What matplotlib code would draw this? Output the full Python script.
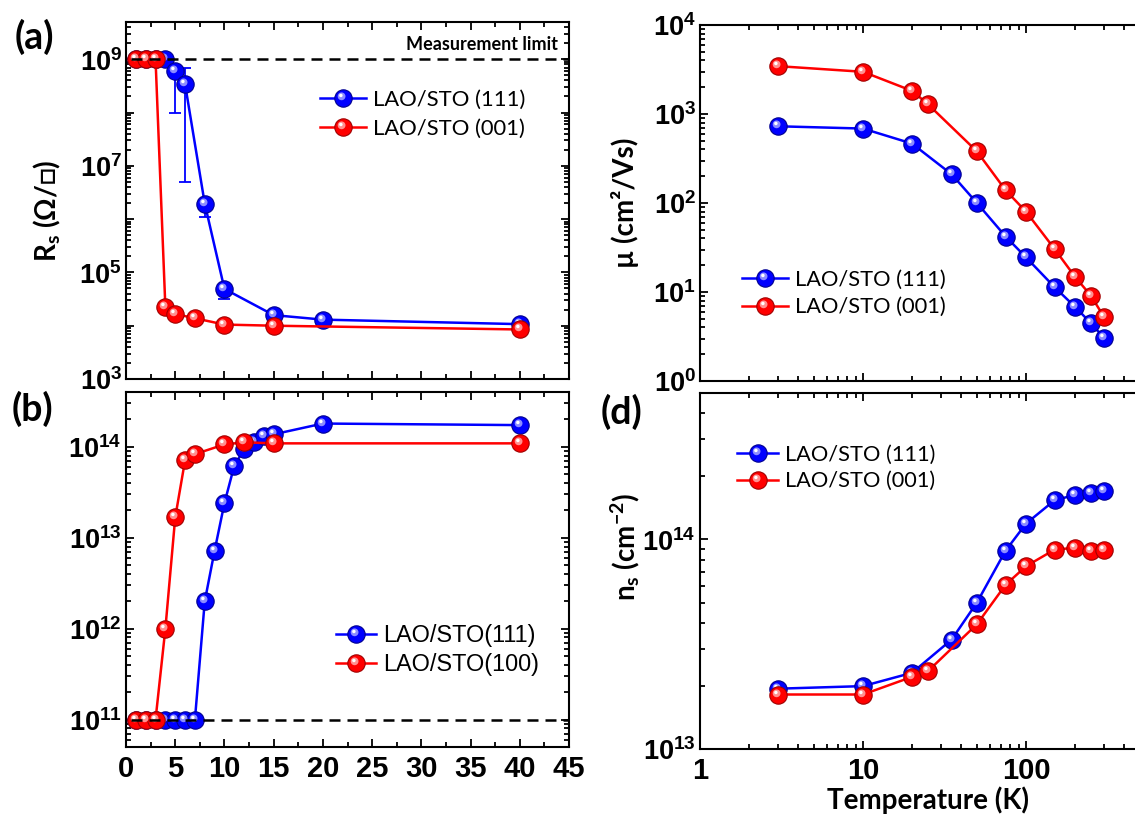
import numpy as np
import matplotlib
matplotlib.use("Agg")
import matplotlib.pyplot as plt
from matplotlib.path import Path
from matplotlib.legend_handler import HandlerTuple
from matplotlib.ticker import LogLocator, FuncFormatter, MultipleLocator, NullFormatter, FixedLocator

# ---------------- data ----------------
# (a) sheet resistance vs LAO thickness
a_t_111 = [1, 2, 3, 4, 5, 6, 8, 10, 15, 20, 40]
a_R_111 = [1e9, 1e9, 1e9, 1e9, 5.9e8, 3.4e8, 1.95e6, 4.9e4, 1.58e4, 1.3e4, 1.07e4]
a_R_111_low = [1e9, 1e9, 1e9, 1e9, 1.0e8, 5.0e6, 1.1e6, 3.2e4, 1.58e4, 1.3e4, 1.07e4]
a_R_111_high = [1e9, 1e9, 1e9, 1e9, 6.9e8, 6.8e8, 1.95e6, 4.9e4, 1.58e4, 1.3e4, 1.07e4]
a_t_001 = [1, 2, 3, 4, 5, 7, 10, 15, 40]
a_R_001 = [1e9, 1e9, 1e9, 2.2e4, 1.66e4, 1.38e4, 1.05e4, 1.0e4, 8.5e3]
a_limit = 1e9

# (b) carrier density vs LAO thickness
b_t_111 = [1, 2, 3, 4, 5, 6, 7, 8, 9, 10, 11, 12, 13, 14, 15, 20, 40]
b_n_111 = [1e11, 1e11, 1e11, 1e11, 1e11, 1e11, 1e11, 2.0e12, 7.2e12, 2.4e13, 6.2e13,
           9.4e13, 1.13e14, 1.31e14, 1.37e14, 1.8e14, 1.73e14]
b_t_100 = [1, 2, 3, 4, 5, 6, 7, 10, 12, 15, 40]
b_n_100 = [1e11, 1e11, 1e11, 1.0e12, 1.67e13, 7.1e13, 8.3e13, 1.06e14, 1.12e14, 1.09e14, 1.09e14]
b_limit = 1e11

# (c) mobility vs temperature
c_T_111 = [3, 10, 20, 35, 50, 75, 100, 150, 200, 250, 300]
c_mu_111 = [728, 686, 465, 210, 100, 42, 24.5, 11.3, 6.8, 4.47, 3.08]
c_T_001 = [3, 10, 20, 25, 50, 75, 100, 150, 200, 250, 300]
c_mu_001 = [3450, 2980, 1820, 1290, 380, 139, 80, 30.3, 14.8, 9.1, 5.3]

# (d) carrier density vs temperature
d_T_111 = [3, 10, 20, 35, 50, 75, 100, 150, 200, 250, 300]
d_n_111 = [1.94e13, 1.996e13, 2.31e13, 3.33e13, 5.0e13, 8.85e13, 1.19e14, 1.54e14, 1.63e14, 1.66e14, 1.71e14]
d_T_001 = [3, 10, 20, 25, 50, 75, 100, 150, 200, 250, 300]
d_n_001 = [1.82e13, 1.82e13, 2.21e13, 2.35e13, 3.94e13, 6.08e13, 7.45e13, 8.95e13, 9.12e13, 8.8e13, 8.86e13]

labels_a = ["LAO/STO (111)", "LAO/STO (001)"]
labels_b = ["LAO/STO(111)", "LAO/STO(100)"]
labels_cd = ["LAO/STO (111)", "LAO/STO (001)"]
a_xticks = [0, 5, 10, 15, 20, 25, 30, 35, 40, 45]
T_xticks = [1, 10, 100]

# ---------------- fonts ----------------
plt.rcParams["mathtext.fontset"] = "custom"
plt.rcParams["mathtext.bf"] = "Liberation Sans:bold"
plt.rcParams["mathtext.rm"] = "Lato:bold"
plt.rcParams["mathtext.it"] = "Lato:bold"
plt.rcParams["font.family"] = ["Lato", "DejaVu Sans"]

W, H = 1135, 826
fig = plt.figure(figsize=(W / 100, H / 100), dpi=100)
renderer = fig.canvas.get_renderer()


def fit_size(s, family, target_px, ref=20):
    t = fig.text(0, 0, s, family=family, fontsize=ref)
    w = t.get_window_extent(renderer).width
    t.remove()
    return ref * target_px / w


def px_axes(x0, y0, x1, y1):
    return fig.add_axes([x0 / W, 1 - y1 / H, (x1 - x0) / W, (y1 - y0) / H])


ax_a = px_axes(126, 22, 569, 379)
ax_b = px_axes(126, 392, 569, 747)
ax_c = px_axes(700, 25, 1189, 381)
ax_d = px_axes(700, 393, 1189, 749)


def disc_marker(cx, cy, r):
    c = Path.circle((cx, cy), r)
    corners = Path([[-1, -1], [1, 1]], [Path.MOVETO, Path.MOVETO])
    return Path.make_compound_path(c, corners)


HL1 = disc_marker(-0.22, 0.25, 0.45)
HL2 = disc_marker(-0.3, 0.35, 0.2)

BLUE = dict(base="#0000ff", edge="#000090", light="#8c8cff")
RED = dict(base="#ff0000", edge="#a00000", light="#ff9090")
MS = 12.5


def spheres(ax, x, y, col, z, lw=1.8):
    l0, = ax.plot(x, y, "-", color=col["base"], lw=lw, marker="o", ms=MS,
                  mfc=col["base"], mec=col["edge"], mew=0.8, zorder=z)
    l1, = ax.plot(x, y, ls="none", marker=HL1, ms=MS, mfc=col["light"], mec="none", zorder=z + 0.1)
    l2, = ax.plot(x, y, ls="none", marker=HL2, ms=MS, mfc="white", mec="none", zorder=z + 0.2)
    return (l0, l1, l2)


def style_axes(ax):
    for s in ax.spines.values():
        s.set_linewidth(1.5)
    ax.tick_params(which="both", direction="in", top=True, right=True, width=1.3)
    ax.tick_params(which="major", length=6)
    ax.tick_params(which="minor", length=3.5)
    ax.tick_params(axis="y", pad=3)
    ax.tick_params(axis="x", pad=6)


def exp_fmt(only_odd=False):
    def f(v, pos):
        e = int(round(np.log10(v)))
        if only_odd and e % 2 == 0:
            return ""
        return r"$\mathbf{10^{%d}}$" % e
    return FuncFormatter(f)


def log_y(ax, lo, hi, only_odd=False):
    ax.set_yscale("log")
    ax.set_ylim(lo, hi)
    ax.yaxis.set_major_locator(LogLocator(base=10, numticks=100))
    ax.yaxis.set_minor_locator(LogLocator(base=10, subs=np.arange(2, 10), numticks=100))
    ax.yaxis.set_major_formatter(exp_fmt(only_odd))
    ax.yaxis.set_minor_formatter(NullFormatter())
    for t in ax.get_yticklabels():
        t.set_fontsize(19.5)


def add_legend(ax, handles, labels, x_px, yc_px, handle_px, family, text_px, row_px):
    size = fit_size(labels[0], family, text_px)
    fpx = size * 100 / 72
    leg = ax.legend(handles, labels, handler_map={tuple: HandlerTuple(ndivide=1)},
                    loc="center left", bbox_to_anchor=(x_px / W, 1 - yc_px / H),
                    bbox_transform=fig.transFigure, frameon=False, borderpad=0,
                    borderaxespad=0, numpoints=1, handlelength=handle_px / fpx,
                    handletextpad=7 / fpx, labelspacing=max(row_px - 1.17 * fpx, 0) / fpx,
                    prop={"family": family, "size": size})
    return leg


# ---------------- (a) ----------------
style_axes(ax_a)
hb = spheres(ax_a, a_t_111, a_R_111, BLUE, 3)
yerr = [np.array(a_R_111) - np.array(a_R_111_low), np.array(a_R_111_high) - np.array(a_R_111)]
ax_a.errorbar(a_t_111, a_R_111, yerr=yerr, fmt="none", ecolor=BLUE["base"], elinewidth=1.3,
              capsize=4, capthick=1.3, zorder=2.9)
hr = spheres(ax_a, a_t_001, a_R_001, RED, 4)
ax_a.hlines(a_limit, 0.5, 45, colors="black", linestyles=(0, (4.4, 2.8)), lw=1.8, zorder=6)
ax_a.set_xlim(0, 45)
ax_a.xaxis.set_major_locator(MultipleLocator(5))
ax_a.xaxis.set_minor_locator(MultipleLocator(2.5))
ax_a.xaxis.set_major_formatter(NullFormatter())
log_y(ax_a, 1e3, 5e9, only_odd=True)
ax_a.text(558 / W, 1 - 45 / H, "Measurement limit", transform=fig.transFigure, ha="right",
          va="center", fontsize=13, fontweight="bold")
add_legend(ax_a, [hb, hr], labels_a, 320, 114.5, 46, "Lato", 152, 35)

# ---------------- (b) ----------------
style_axes(ax_b)
hb = spheres(ax_b, b_t_111, b_n_111, BLUE, 3)
hr = spheres(ax_b, b_t_100, b_n_100, RED, 4)
ax_b.hlines(b_limit, 0.5, 45, colors="black", linestyles=(0, (4.4, 2.8)), lw=1.8, zorder=6)
ax_b.set_xlim(0, 45)
ax_b.xaxis.set_major_locator(FixedLocator(a_xticks))
ax_b.xaxis.set_minor_locator(MultipleLocator(2.5))
ax_b.set_xticklabels([str(v) for v in a_xticks], fontsize=21, fontweight="bold", family="Liberation Sans")
log_y(ax_b, 5e10, 4e14)
add_legend(ax_b, [hb, hr], labels_b, 336, 650, 40, "Liberation Sans", 153, 34)

# ---------------- (c) ----------------
style_axes(ax_c)
hb = spheres(ax_c, c_T_111, c_mu_111, BLUE, 3)
hr = spheres(ax_c, c_T_001, c_mu_001, RED, 4)
ax_c.set_xscale("log")
ax_c.set_xlim(1, 1000)
ax_c.xaxis.set_minor_locator(LogLocator(base=10, subs=np.arange(2, 10), numticks=100))
ax_c.xaxis.set_major_formatter(NullFormatter())
ax_c.xaxis.set_minor_formatter(NullFormatter())
log_y(ax_c, 1, 1e4)
add_legend(ax_c, [hb, hr], labels_cd, 742, 293.5, 46, "Lato", 151, 33)

# ---------------- (d) ----------------
style_axes(ax_d)
hb = spheres(ax_d, d_T_111, d_n_111, BLUE, 3)
hr = spheres(ax_d, d_T_001, d_n_001, RED, 4)
ax_d.set_xscale("log")
ax_d.set_xlim(1, 1000)
ax_d.xaxis.set_major_locator(FixedLocator(T_xticks))
ax_d.xaxis.set_minor_locator(LogLocator(base=10, subs=np.arange(2, 10), numticks=100))
ax_d.set_xticklabels([str(v) for v in T_xticks], fontsize=21, fontweight="bold", family="Liberation Sans")
ax_d.xaxis.set_minor_formatter(NullFormatter())
log_y(ax_d, 1e13, 5e14)
add_legend(ax_d, [hb, hr], labels_cd, 737, 468, 41, "Lato", 150, 32)

# ---------------- labels ----------------
def ftext(x, y, s, **kw):
    fig.text(x / W, 1 - y / H, s, **kw)

lab = dict(fontsize=20, fontweight="bold", ha="center", va="center", rotation=90)
ftext(47, 211, r"$\mathrm{R_s}$ (Ω/□)", **lab)
ftext(625, 203, "µ (cm²/Vs)", **lab)
ftext(625, 547, r"$\mathrm{n_s}$ (cm$\mathrm{^{-2}}$)", **lab)
ftext(928, 800, "Temperature (K)", fontsize=20, fontweight="bold", ha="center", va="center")

pl = dict(fontsize=27, fontweight="bold", ha="center", va="center")
ftext(34, 37, "(a)", **pl)
ftext(32, 409, "(b)", **pl)
ftext(621, 412, "(d)", **pl)

fig.savefig("out.png", dpi=100)
